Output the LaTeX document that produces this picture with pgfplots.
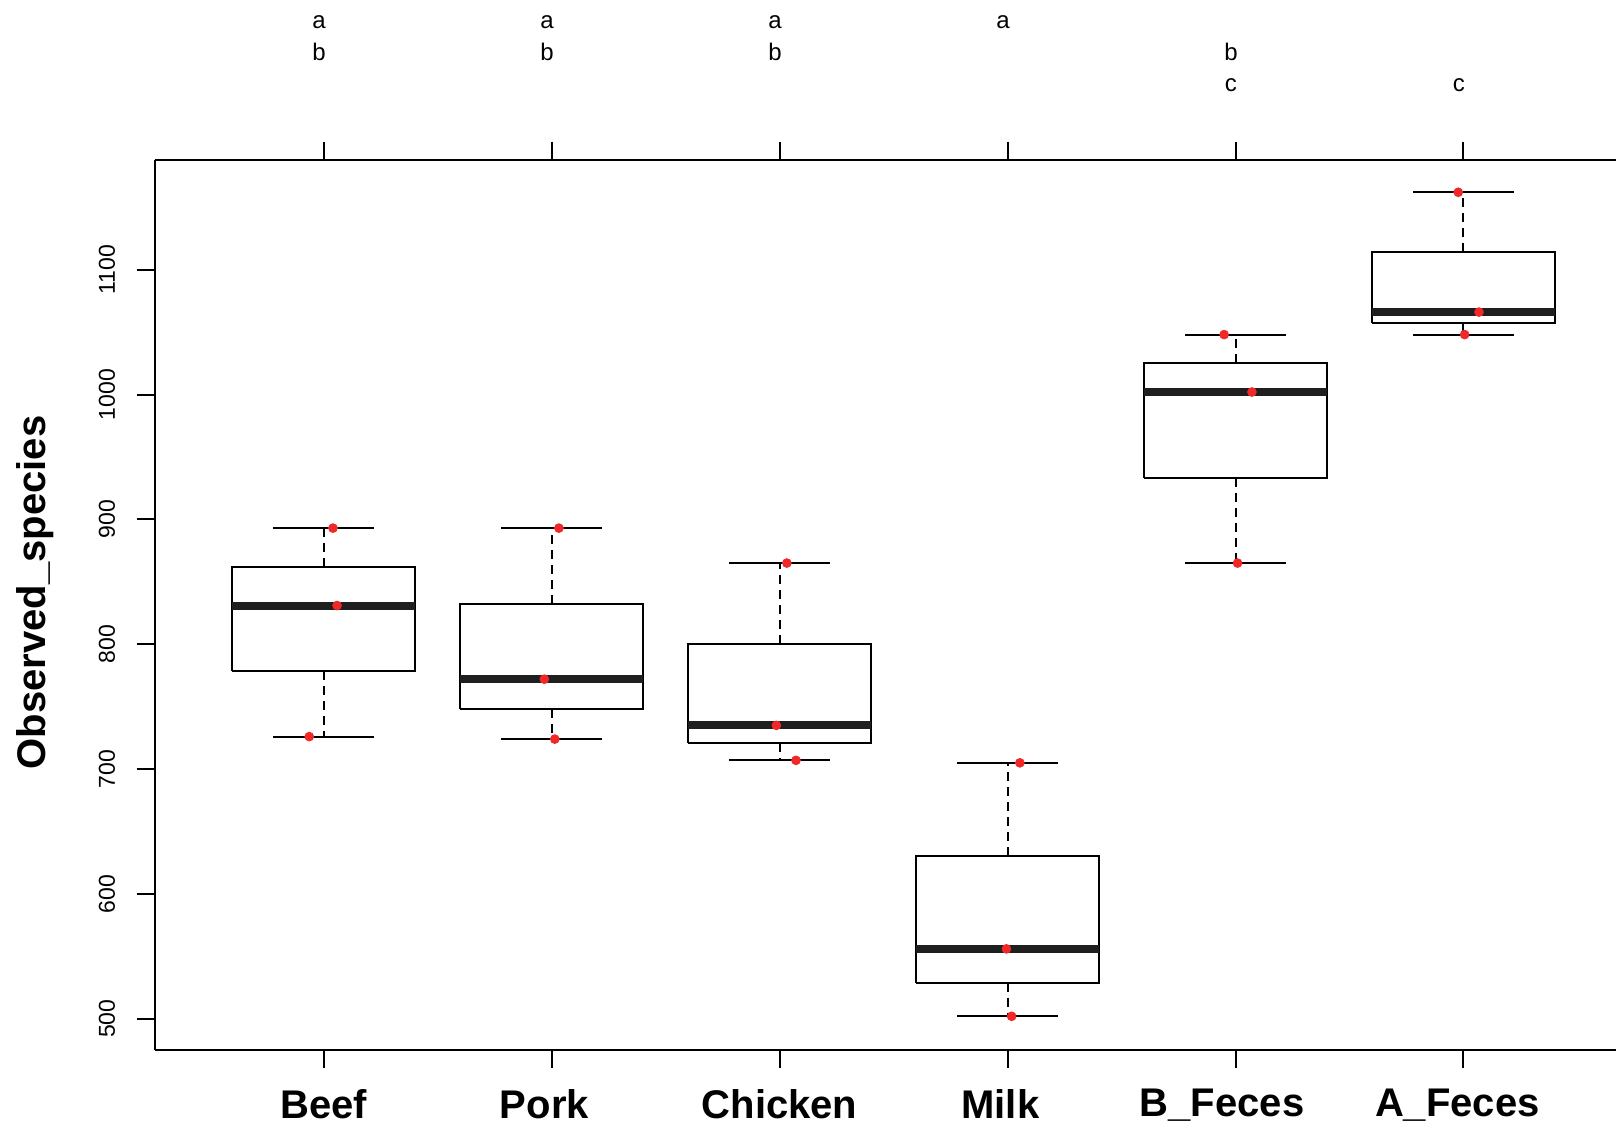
\documentclass[border=0pt]{standalone}
\usepackage{fontspec}
\setmainfont{Liberation Sans}
\usepackage{pgfplots}
\pgfplotsset{compat=1.18}
\definecolor{ptred}{RGB}{240,40,40}
\begin{document}
\begin{tikzpicture}
\useasboundingbox (0,0) rectangle (808pt,563pt);
\begin{axis}[
  at={(77.3pt,38pt)}, anchor=south west,
  scale only axis, width=730.7pt, height=445.1pt,
  xmin=0.2586, xmax=6.669, ymin=475, ymax=1188,
  axis x line*=box, axis y line*=left,
  axis line style={line width=1pt, black},
  every tick/.style={line width=1pt, black},
  tick align=outside, major tick length=9pt,
  xtick={1,2,3,4,5,6},
  xticklabels={Beef,\hspace*{-7.2pt}Pork,Chicken,\hspace*{-7.2pt}Milk,\hspace*{-13.4pt}B\_Feces,\hspace*{-6.2pt}A\_Feces},
  xticklabel style={font=\fontsize{20}{24}\selectfont\bfseries, inner sep=10.5pt},
  ytick={500,600,700,800,900,1000,1100},
  yticklabel style={rotate=90, anchor=south, font=\fontsize{11.5}{14}\selectfont, inner sep=10.5pt},
  /pgf/number format/assume math mode=true,
  /pgf/number format/1000 sep={},
  ylabel={Observed\_species},
  ylabel style={at={(axis description cs:-0.0815,0.514)}, rotate=0, anchor=center, font=\fontsize{20}{24}\selectfont\bfseries},
  clip=false,
  unbounded coords=jump,
]
% boxes (lower quartile to upper quartile)
\addplot[black, line width=1pt, line join=miter] coordinates {
 (0.5975,778.5) (1.4025,778.5) (1.4025,862) (0.5975,862) (0.5975,778.5) (1,nan)
 (1.5975,748) (2.4025,748) (2.4025,832.5) (1.5975,832.5) (1.5975,748) (2,nan)
 (2.5975,721) (3.4025,721) (3.4025,800) (2.5975,800) (2.5975,721) (3,nan)
 (3.5975,529) (4.4025,529) (4.4025,630.5) (3.5975,630.5) (3.5975,529) (4,nan)
 (4.5975,933.5) (5.4025,933.5) (5.4025,1025) (4.5975,1025) (4.5975,933.5) (5,nan)
 (5.5975,1057) (6.4025,1057) (6.4025,1114) (5.5975,1114) (5.5975,1057)
};
% medians
\addplot[black!88, line width=4pt] coordinates {
 (0.5975,831) (1.4025,831) (1,nan)
 (1.5975,772) (2.4025,772) (2,nan)
 (2.5975,735) (3.4025,735) (3,nan)
 (3.5975,556) (4.4025,556) (4,nan)
 (4.5975,1002) (5.4025,1002) (5,nan)
 (5.5975,1066) (6.4025,1066)
};
% whiskers (dashed)
\addplot[black, line width=1pt, dash pattern=on 4.5pt off 3pt] coordinates {
 (1,862) (1,893) (1,nan) (1,778.5) (1,726) (1,nan)
 (2,832.5) (2,893) (2,nan) (2,748) (2,724) (2,nan)
 (3,800) (3,865) (3,nan) (3,721) (3,707) (3,nan)
 (4,630.5) (4,705) (4,nan) (4,529) (4,502) (4,nan)
 (5,1025) (5,1048) (5,nan) (5,933.5) (5,865) (5,nan)
 (6,1114) (6,1162) (6,nan) (6,1057) (6,1048)
};
% whisker caps
\addplot[black, line width=1pt] coordinates {
 (0.78,893) (1.22,893) (1,nan) (0.78,726) (1.22,726) (1,nan)
 (1.78,893) (2.22,893) (2,nan) (1.78,724) (2.22,724) (2,nan)
 (2.78,865) (3.22,865) (3,nan) (2.78,707) (3.22,707) (3,nan)
 (3.78,705) (4.22,705) (4,nan) (3.78,502) (4.22,502) (4,nan)
 (4.78,1048) (5.22,1048) (5,nan) (4.78,865) (5.22,865) (5,nan)
 (5.78,1162) (6.22,1162) (6,nan) (5.78,1048) (6.22,1048)
};
% observations (jittered)
\addplot[only marks, mark=*, mark size=2.2pt, color=ptred] coordinates {
 (1.041,893) (1.059,831) (0.937,726)
 (2.032,893) (1.968,772) (2.014,724)
 (3.032,865) (2.986,735) (3.072,707)
 (4.054,705) (3.995,556) (4.018,502)
 (4.950,1048) (5.072,1002) (5.009,865)
 (5.977,1162) (6.068,1066) (6.005,1048)
};
\begin{scope}[every node/.style={font=\fontsize{12}{14}\selectfont, inner sep=0pt}]
\node at (axis cs:0.98,1298) {a};
\node at (axis cs:0.98,1274) {b};
\node at (axis cs:1.98,1298) {a};
\node at (axis cs:1.98,1274) {b};
\node at (axis cs:2.98,1298) {a};
\node at (axis cs:2.98,1274) {b};
\node at (axis cs:3.98,1298) {a};
\node at (axis cs:4.98,1274) {b};
\node at (axis cs:4.98,1248) {c};
\node at (axis cs:5.98,1248) {c};
\end{scope}
\end{axis}
\end{tikzpicture}
\end{document}
